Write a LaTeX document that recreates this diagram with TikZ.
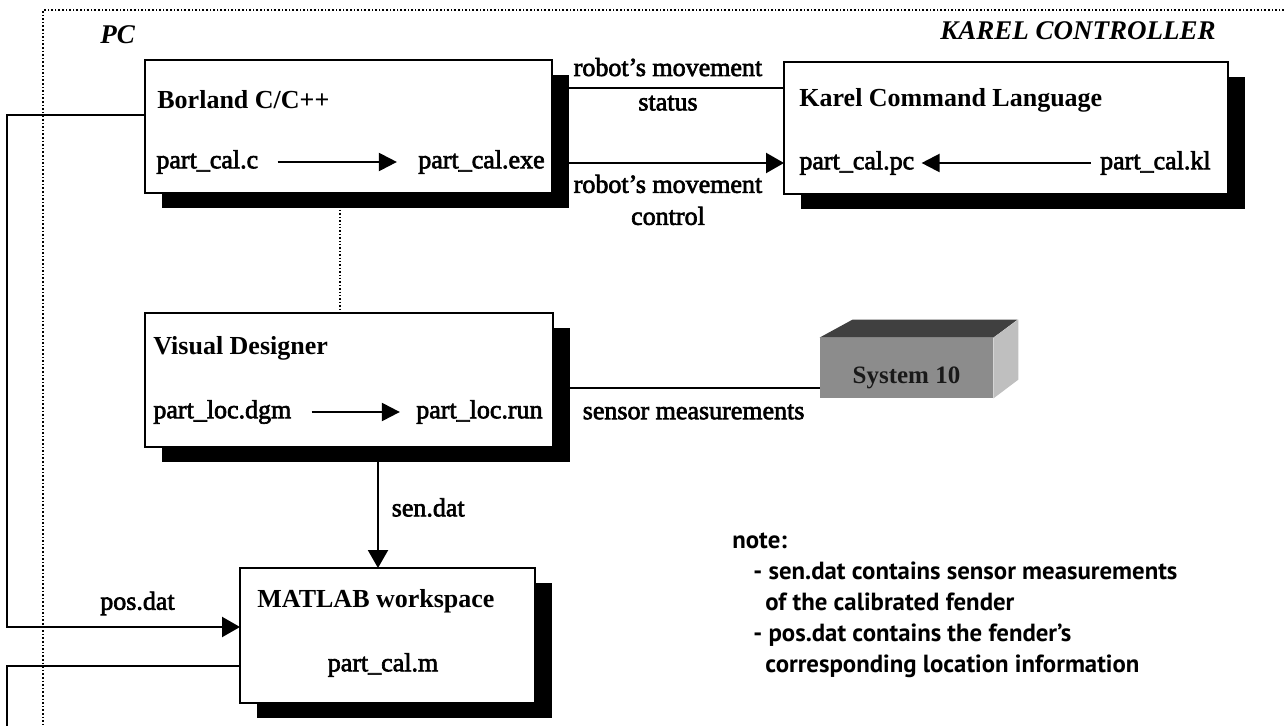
\documentclass[tikz,border=0pt]{standalone}
\usepackage{fontspec}
\setmainfont{Liberation Serif}
\newfontfamily\scanfont{Liberation Serif}[FakeBold=2.5]
\newfontfamily\notefont{PT Sans}
\usetikzlibrary{arrows.meta, shadows}

\begin{document}
\begin{tikzpicture}[
  x=0.5pt, y=-0.5pt,
  font=\scanfont\fontsize{13}{16}\selectfont,
  box/.style={draw, line width=1.1pt, fill=white, inner sep=0pt, outer sep=0pt,
    drop shadow={shadow xshift=8.5pt, shadow yshift=-7.5pt, fill=black, opacity=1}},
  txt/.style={inner sep=0pt},
  hd/.style={inner sep=0pt, font=\rmfamily\fontsize{13}{16}\selectfont\bfseries},
  title/.style={inner sep=0pt, font=\rmfamily\fontsize{13.5}{16}\selectfont\bfseries\itshape},
  arrow/.style={-{Triangle[length=9pt, width=10pt]}, line width=1.1pt},
  inarrow/.style={-{Triangle[length=9pt, width=9pt]}, line width=1.1pt},
  link/.style={line width=1.1pt},
  frame/.style={densely dotted, line width=0.8pt},
  sysfront/.style={fill=black!45, inner sep=0pt, minimum width=86.5pt, minimum height=30pt}
]
\useasboundingbox (0,0) rectangle (1284,726);

% PC / controller frame
\draw[frame] (1284,10) -| (43,726);
\node[title, anchor=west] (pc) at (100,35) {PC};
\node[title, anchor=east] (karelctl) at (1216,31) {KAREL CONTROLLER};

% boxes
\node[box, minimum width=203.5pt, minimum height=66.5pt] (borland) at (348.5,126.5) {};
\node[box, minimum width=222pt, minimum height=66pt] (karel) at (1006,128) {};
\node[box, minimum width=204pt, minimum height=67pt] (visual) at (349,380) {};
\node[box, minimum width=147.5pt, minimum height=67.5pt] (matlab) at (387.5,635.5) {};

\node[hd, anchor=west] (borlandhd) at (157,100) {Borland C/C++};
\node[txt, anchor=west] (calc) at (156,162) {part\_cal.c};
\node[txt, anchor=east] (calexe) at (545,162) {part\_cal.exe};

\node[hd, anchor=west] (karelhd) at (799,100) {Karel Command Language};
\node[txt, anchor=west] (calpc) at (799,163) {part\_cal.pc};
\node[txt, anchor=east] (calkl) at (1211,163) {part\_cal.kl};

\node[hd, anchor=west] (visualhd) at (153,348) {Visual Designer};
\node[txt, anchor=west] (locdgm) at (153,412) {part\_loc.dgm};
\node[txt, anchor=east] (locrun) at (543,412) {part\_loc.run};

\node[hd, anchor=west] (matlabhd) at (257,601) {MATLAB workspace};
\node[txt] (calm) at (383,665) {part\_cal.m};

% System 10 unit
\node[sysfront, label={[font=\rmfamily\fontsize{12.5}{15}\selectfont\bfseries, text=black!90, yshift=-5pt]center:System 10}] (sys10) at (906.5,368) {};
\fill[black!75] (sys10.north west) -- ++(33,-18) -- ++(165,0) -- (sys10.north east) -- cycle;
\fill[black!25] (sys10.north east) -- ++(25,-18) -- ++(0,60) -- (sys10.south east) -- cycle;

% file conversions
\draw[inarrow, shorten <=9.5pt, shorten >=10.5pt] (calc.east) -- (calc.east -| calexe.west);
\draw[inarrow, shorten <=4.5pt, shorten >=3.5pt] (calkl.west) -- (calkl.west -| calpc.east);
\draw[inarrow, shorten <=10pt, shorten >=8pt] (locdgm.east) -- (locdgm.east -| locrun.west);

% connections
\draw[link] ([yshift=19.25pt]borland.east) -- ([yshift=19.25pt]borland.east -| karel.west)
  node[midway, above=2pt] {robot’s movement} node[midway, below] {status};
\draw[arrow] ([yshift=-18.25pt]borland.east) -- ([yshift=-18.25pt]borland.east -| karel.west)
  node[midway, below=2pt, align=center] {robot’s movement\\control};
\draw[densely dotted, line width=0.7pt] ([xshift=-4.25pt]borland.south) -- ([xshift=-4.25pt]borland.south |- visual.north);
\draw[link] ([yshift=-4pt]visual.east) -- ([yshift=-4pt]visual.east -| sys10.west)
  node[pos=0, anchor=west, xshift=11pt, yshift=-12pt] {sensor measurements};
\draw[arrow] ([xshift=14.5pt]visual.south) -- ([xshift=14.5pt]visual.south |- matlab.north)
  node[midway, right=3pt] {sen.dat};
\draw[arrow] ([yshift=5.75pt]borland.west) -- ++(-138,0) |- ([yshift=4.25pt]matlab.west)
  node[pos=.78, above=2pt] {pos.dat};
\coordinate (exit) at (7,726);
\draw[link] ([yshift=-15.25pt]matlab.west) -| (exit);

% note
\node[anchor=north west, inner sep=0pt, align=left, font=\notefont\bfseries\fontsize{12.4}{15.5}\selectfont] (note) at (732,532)
  {note:\\\hspace*{10.5pt}- sen.dat contains sensor measurements\\\hspace*{16.5pt}of the calibrated fender\\\hspace*{10.5pt}- pos.dat contains the fender’s\\\hspace*{16.5pt}corresponding location information};
\end{tikzpicture}
\end{document}
